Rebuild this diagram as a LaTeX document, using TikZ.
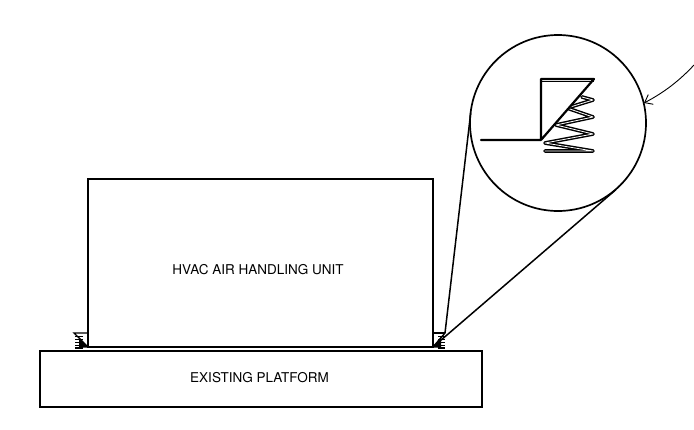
\documentclass[tikz,border=0pt]{standalone}
\usepackage{fontspec}
\setmainfont{TeX Gyre Heros}
\usetikzlibrary{arrows.meta}
\tikzset{
  x=1pt,y=-1pt,
  boxed/.style={draw=black,line width=1.5pt,fill=white,inner sep=0pt,font=\fontsize{13.5pt}{15pt}\selectfont},
  labeltext/.style={inner sep=0pt,font=\fontsize{13.5pt}{15pt}\selectfont},
  lens/.style={draw=black,line width=1.7pt},
  leaderline/.style={draw=black,line width=1.5pt},
  bracketlarge/.style={draw=black,line width=2.2pt,line cap=round,line join=round},
  springout/.style={draw=black,line width=3.7pt,line cap=round,line join=round},
  springin/.style={draw=white,line width=0.8pt,line cap=round,line join=round},
  bracketsmall/.style={draw=black,line width=1.4pt},
  springsmall/.style={draw=black,line width=1.4pt},
  callout/.style={draw=black,line width=0.9pt,-{Straight Barb[length=7pt,width=11pt]}}
}
\begin{document}
\begin{tikzpicture}
\useasboundingbox (0,0) rectangle (694,429);
\fill[white] (0,0) rectangle (694,429);
\node[boxed,minimum width=345pt,minimum height=168pt] (unit) at (260.5,263) {};
\node[labeltext] (unitlabel) at (258,270) {HVAC AIR HANDLING UNIT};
\node[boxed,minimum width=442pt,minimum height=56pt] (platform) at (261,379) {};
\node[labeltext] (platformlabel) at (259.5,378) {EXISTING PLATFORM};
% small isolators
\coordinate (RB) at (433,347);
\coordinate (RT) at (445,333);
\fill (433,347) -- (441,337) -- (441,347.5) -- (433,347.5) -- cycle;
\foreach \yy in {336.5,339.5,342.5,345.5,348} \draw[springsmall] (438,\yy) -- (445,\yy);
\draw[bracketsmall] (433,333) -- (RT);
\draw[bracketsmall] (RB) -- (RT);
\fill (88,347) -- (79,337) -- (79,347.5) -- (88,347.5) -- cycle;
\foreach \yy in {336.5,339.5,342.5,345.5,348} \draw[springsmall] (83,\yy) -- (75,\yy);
\draw[bracketsmall] (88,333) -- (74,333) -- (88,347);
\draw[line width=1.2pt] (88,347) -- (433,347);
% lens
\node[lens,circle,minimum size=176pt,inner sep=0pt] (detail) at (558,123) {};
\coordinate (tanL) at (470.7,112.8);
\coordinate (tanR) at (615.7,189.8);
\draw[leaderline] (RT) -- (tanL);
\draw[leaderline] (RB) -- (tanR);
% detail
\draw[springout] (582,97) -- (593,100) -- (567,108) -- (593,117) -- (556,125) -- (593,134) -- (545,143) -- (593,151) -- (545,151);
\draw[springin] (582,97) -- (593,100) -- (567,108) -- (593,117) -- (556,125) -- (593,134) -- (545,143) -- (593,151) -- (545,151);
\fill[white] (541,140) -- (541,79) -- (594,79) -- cycle;
\draw[bracketlarge] (481,140) -- (541,140) -- (541,79) -- (594,79) -- (541,140);
\draw[draw=black,line width=1pt] (541,81) -- (594,81);
\coordinate (callfrom) at (694,65);
\draw[callout] (callfrom) .. controls (680,80) and (665,92) .. (644,103);
\end{tikzpicture}
\end{document}
